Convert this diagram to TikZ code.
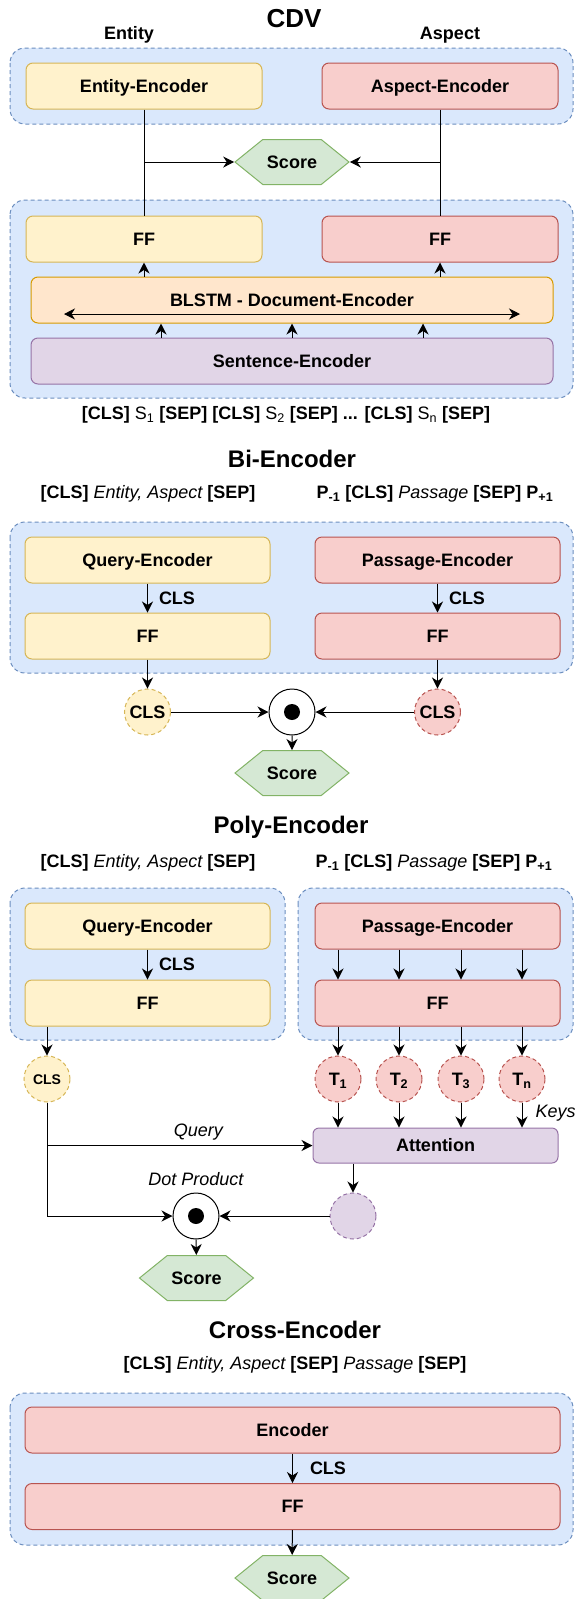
\documentclass[tikz,border=0pt]{standalone}
\usepackage{fontspec}
\setmainfont{Liberation Sans}
\usetikzlibrary{arrows.meta,shapes.symbols}
\definecolor{bluef}{HTML}{DAE8FC}
\definecolor{blued}{HTML}{6C8EBF}
\definecolor{yelf}{HTML}{FFF2CC}
\definecolor{yeld}{HTML}{D6B656}
\definecolor{redf}{HTML}{F8CECC}
\definecolor{redd}{HTML}{B85450}
\definecolor{orgf}{HTML}{FFE6CC}
\definecolor{orgd}{HTML}{D79B00}
\definecolor{purf}{HTML}{E1D5E7}
\definecolor{purd}{HTML}{9673A6}
\definecolor{grnf}{HTML}{D5E8D4}
\definecolor{grnd}{HTML}{82B366}

\begin{document}
\begin{tikzpicture}[x=1pt,y=-1pt,line width=1pt,
    >={Stealth[length=11pt,width=11pt,inset=3.5pt]},
    every node/.style={font=\fontsize{18}{21}\selectfont\bfseries,inner sep=0pt,text height=12.9pt,text depth=0pt},
    ttl/.style={font=\fontsize{24}{28}\selectfont\bfseries,text height=17.2pt},
    lbl/.style={font=\fontsize{18}{21}\selectfont\mdseries\itshape},
    grp/.style={draw=blued,fill=bluef,dash pattern=on 4pt off 3pt,rounded corners=15pt},
    blk/.style={draw,rounded corners=7pt,minimum height=46pt,minimum width=#1},
    blk/.default=245pt,
    yel/.style={draw=yeld,fill=yelf},
    red/.style={draw=redd,fill=redf},
    org/.style={draw=orgd,fill=orgf},
    pur/.style={draw=purd,fill=purf},
    tok/.style={circle,dash pattern=on 4pt off 3pt,minimum size=46pt},
    dotp/.style={circle,draw,fill=white,minimum size=46pt},
    score/.style={signal,signal to=west and east,signal pointer angle=78,draw=grnd,fill=grnf,minimum width=114pt,minimum height=45pt}]
    \useasboundingbox (0,0) rectangle (574,1599);

    % CDV
    \node[ttl,font=\fontsize{26}{30}\selectfont\bfseries,text height=18.6pt] (cdv) at (294,18) {CDV};
    \node (ent) at (129,33) {Entity};
    \node (asp) at (450,33) {Aspect};
    \draw[grp] (10,48) rectangle (573,124);
    \node[blk=236pt,yel] (ee) at (144,86) {Entity-Encoder};
    \node[blk=236pt,red] (ae) at (440,86) {Aspect-Encoder};
    \node[score] (s1) at (292,162) {Score};
    \draw[grp] (10,200) rectangle (573,398);
    \node[blk=236pt,yel] (ffe) at (144,239) {FF};
    \node[blk=236pt,red] (ffa) at (440,239) {FF};
    \node[blk=522pt,org] (doc) at (292,300) {BLSTM - Document-Encoder};
    \node[blk=522pt,pur] (sen) at (292,361) {Sentence-Encoder};
    \node (sin) at (286,413) {[CLS] {\mdseries S\textsubscript{1}} [SEP] [CLS] {\mdseries S\textsubscript{2}} [SEP] ... [CLS] {\mdseries S\textsubscript{n}} [SEP]};
    \draw (ee) -- (ffe);
    \draw (ae) -- (ffa);
    \draw[->] (ee.south |- s1) -- (s1);
    \draw[->] (ae.south |- s1) -- (s1);
    \draw[->] (doc.north -| ffe) -- (ffe);
    \draw[->] (doc.north -| ffa) -- (ffa);
    \foreach \d in {-131,0,131}
        \draw[->] ([xshift=\d pt]sen.north) -- ([xshift=\d pt]doc.south);
    \draw[<->] ([xshift=-228pt,yshift=-14pt]doc.center) -- ([xshift=228pt,yshift=-14pt]doc.center);

    % Bi-Encoder
    \node[ttl] (bi) at (292,459) {Bi-Encoder};
    \node (biq) at (148,492) {[CLS] {\mdseries\itshape Entity, Aspect} [SEP]};
    \node (bip) at (435,492) {P\textsubscript{-1} [CLS] {\mdseries\itshape Passage} [SEP] P\textsubscript{+1}};
    \draw[grp] (10,522) rectangle (573,673);
    \node[blk,yel] (bqe) at (147.5,560) {Query-Encoder};
    \node[blk,red] (bpe) at (437.5,560) {Passage-Encoder};
    \node[blk,yel] (bqf) at (147.5,636) {FF};
    \node[blk,red] (bpf) at (437.5,636) {FF};
    \node[tok,yel] (bqc) at (147.5,712) {CLS};
    \node[tok,red] (bpc) at (437.5,712) {CLS};
    \node[dotp] (bdot) at (292,712) {};
    \fill (bdot) circle (8pt);
    \node[score] (s2) at (292,773) {Score};
    \draw[->] (bqe) -- node[right=11pt] {CLS} (bqf);
    \draw[->] (bpe) -- node[right=11pt] {CLS} (bpf);
    \draw[->] (bqf) -- (bqc);
    \draw[->] (bpf) -- (bpc);
    \draw[->] (bqc) -- (bdot);
    \draw[->] (bpc) -- (bdot);
    \draw[->] (bdot) -- (s2);

    % Poly-Encoder
    \node[ttl] (poly) at (291,825) {Poly-Encoder};
    \node (pq) at (148,861) {[CLS] {\mdseries\itshape Entity, Aspect} [SEP]};
    \node (pp) at (434,861) {P\textsubscript{-1} [CLS] {\mdseries\itshape Passage} [SEP] P\textsubscript{+1}};
    \draw[grp] (10,888) rectangle (285,1040);
    \draw[grp] (298,888) rectangle (573,1040);
    \node[blk,yel] (pqe) at (147.5,926) {Query-Encoder};
    \node[blk,yel] (pqf) at (147.5,1003) {FF};
    \node[blk,red] (ppe) at (437.5,926) {Passage-Encoder};
    \node[blk,red] (ppf) at (437.5,1003) {FF};
    \node[tok,yel,font=\fontsize{14}{16}\selectfont\bfseries,text height=10pt] (pqc) at (47,1079) {CLS};
    \node[blk,pur,minimum height=35pt,rounded corners=6pt] (att) at (435.5,1145.5) {Attention};
    \draw[->] (pqe) -- node[right=11pt] {CLS} (pqf);
    \draw[->] (pqf.south -| pqc) -- (pqc);
    \foreach \i/\x/\t in {1/338/1,2/399/2,3/461/3,4/522/n} {
        \node[tok,red] (t\i) at (\x,1079) {T\textsubscript{\t}};
        \draw[->] (ppe.south -| t\i) -- (ppf.north -| t\i);
        \draw[->] (ppf.south -| t\i) -- (t\i);
        \draw[->] (t\i) -- (att.north -| t\i);
    }
    \node[lbl,anchor=west] (keys) at (535,1111) {Keys};
    \node[lbl] (dp) at (196,1179) {Dot Product};
    \node[dotp] (pdot) at (196,1216) {};
    \fill (pdot) circle (8pt);
    \node[tok,pur] (pav) at (353,1216) {};
    \node[score] (s3) at (196.5,1278) {Score};
    \draw[->] (pqc) |- (pdot);
    \draw[->] (pqc |- att) -- node[lbl,above=8.5pt,pos=0.57] {Query} (att);
    \draw[->] (att.south -| pav) -- (pav);
    \draw[->] (pav) -- (pdot);
    \draw[->] (pdot) -- (s3);

    % Cross-Encoder
    \node[ttl] (cross) at (295,1330) {Cross-Encoder};
    \node (cin) at (295,1363) {[CLS] {\mdseries\itshape Entity, Aspect} [SEP] {\mdseries\itshape Passage} [SEP]};
    \draw[grp] (10,1393) rectangle (573,1545);
    \node[blk=535pt,red] (cenc) at (292.5,1430) {Encoder};
    \node[blk=535pt,red] (cff) at (292.5,1506.5) {FF};
    \node[score] (s4) at (292,1578) {Score};
    \draw[->] (cenc) -- node[right=17pt] {CLS} (cff);
    \draw[->] (cff) -- (s4);
\end{tikzpicture}
\end{document}
